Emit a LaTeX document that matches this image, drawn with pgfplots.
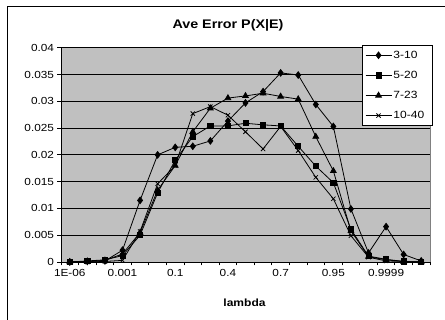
\documentclass[border=0pt]{standalone}
\usepackage{pgfplots}
\pgfplotsset{compat=1.18}
\usepackage{fontspec}
\setmainfont{Liberation Sans}[FakeStretch=1.15]
\definecolor{plotgray}{HTML}{C0C0C0}
\definecolor{bordergray}{HTML}{808080}
\newcommand{\tl}[1]{\textnormal{#1}}
\begin{document}
\begin{tikzpicture}
\useasboundingbox (0,0) rectangle (445bp,320bp);
\draw[black, line width=0.8bp] (7bp,-5bp) -- (7bp,314bp) -- (450bp,314bp);
\node[font=\bfseries\fontsize{12.5}{14}\selectfont] at (228bp,294.5bp) {Ave Error P(X|E)};
\node[font=\bfseries\fontsize{10.5}{12}\selectfont] at (244.5bp,17bp) {lambda};
\begin{axis}[
  at={(61bp,58bp)}, anchor=south west,
  scale only axis, width=369bp, height=214.3bp,
  xmin=-0.5, xmax=20.5, ymin=0, ymax=0.04,
  scaled y ticks=false,
  axis x line*=bottom, axis y line*=left,
  axis line style={black, line width=0.8bp},
  axis background/.style={fill=plotgray, draw=bordergray, line width=0.8bp},
  ytick={0,0.005,0.01,0.015,0.02,0.025,0.03,0.035,0.04},
  yticklabels={\tl{0},\tl{0.005},\tl{0.01},\tl{0.015},\tl{0.02},\tl{0.025},\tl{0.03},\tl{0.035},\tl{0.04}},
  xtick={-0.5,0.5,...,20.5}, xticklabels={},
  extra x ticks={0,3,6,9,12,15,18},
  extra x tick labels={\tl{1E-06},\tl{0.001},\tl{0.1},\tl{0.4},\tl{0.7},\tl{0.95},\tl{0.9999}},
  extra x tick style={major tick length=0pt, xticklabel style={yshift=-3.5bp}},
  tick align=outside, major tick length=3.5bp,
  tick style={black, line width=0.8bp},
  ticklabel style={font=\fontsize{10.3}{12}\selectfont},
  ymajorgrids, major grid style={black, line width=0.7bp},
  clip=false,
  every axis plot/.append style={black, line width=0.8bp, mark options={solid, fill=black}},
  legend style={at={(rel axis cs:0.815,1.0126)}, anchor=north west,
    draw=black, fill=white, line width=0.8bp,
    font=\fontsize{10.5}{12}\selectfont, row sep=8.3bp,
    inner xsep=3bp, inner ysep=4bp,
    nodes={inner sep=1.5bp, text width=34bp}},
  legend cell align=left,
  legend image code/.code={\draw[mark repeat=2,mark phase=2,#1] plot coordinates {(0bp,0bp) (13bp,0bp) (26bp,0bp)};},
]
\addplot[mark=diamond*, mark size=3.3bp] coordinates {
(0,0) (1,0.0001) (2,0.0002) (3,0.0022) (4,0.0115) (5,0.0200) (6,0.0214) (7,0.0216) (8,0.0226) (9,0.0263) (10,0.0297) (11,0.0318) (12,0.0353) (13,0.0349) (14,0.0294) (15,0.0253) (16,0.0099) (17,0.0017) (18,0.0066) (19,0.0014) (20,0.0002)};
\addlegendentry{3-10}
\addplot[mark=square*, mark size=2.6bp] coordinates {
(0,0) (1,0.0002) (2,0.0004) (3,0.0012) (4,0.0050) (5,0.0129) (6,0.0190) (7,0.0234) (8,0.0254) (9,0.0254) (10,0.0259) (11,0.0256) (12,0.0254) (13,0.0216) (14,0.0179) (15,0.0148) (16,0.0061) (17,0.0011) (18,0.0005) (19,0.0001) (20,0.0000)};
\addlegendentry{5-20}
\addplot[mark=triangle*, mark size=3.3bp] coordinates {
(0,0) (1,0.0001) (2,0.0003) (3,0.0015) (4,0.0055) (5,0.0134) (6,0.0180) (7,0.0243) (8,0.0287) (9,0.0306) (10,0.0310) (11,0.0315) (12,0.0309) (13,0.0304) (14,0.0234) (15,0.0170) (16,0.0058) (17,0.0010) (18,0.0004) (19,0.0001) (20,0.0000)};
\addlegendentry{7-23}
\addplot[mark=x, mark size=3bp] coordinates {
(0,0) (1,0) (2,0.0001) (3,0.0003) (4,0.0057) (5,0.0146) (6,0.0180) (7,0.0277) (8,0.0290) (9,0.0274) (10,0.0243) (11,0.0211) (12,0.0253) (13,0.0208) (14,0.0158) (15,0.0118) (16,0.0049) (17,0.0009) (18,0.0002) (19,0.0001) (20,0.0000)};
\addlegendentry{10-40}
\end{axis}
\end{tikzpicture}
\end{document}
